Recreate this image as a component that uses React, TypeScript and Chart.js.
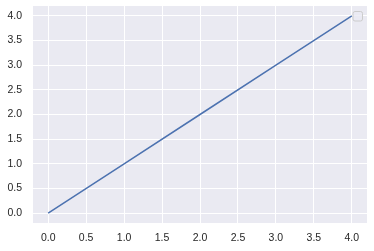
import React, { useEffect, useRef } from "react";
import { Chart, registerables } from "chart.js";

Chart.register(...registerables);

const xValues = [0, 1, 2, 3, 4];
const yValues = [0, 1, 2, 3, 4];
const xTicks = [0, 0.5, 1, 1.5, 2, 2.5, 3, 3.5, 4];
const yTicks = [0, 0.5, 1, 1.5, 2, 2.5, 3, 3.5, 4];

const bgPlugin = {
  id: "bgPlugin",
  beforeDraw(chart: any) {
    const { ctx, chartArea } = chart;
    ctx.save();
    ctx.fillStyle = "#EAEAF2";
    ctx.fillRect(chartArea.left, chartArea.top, chartArea.right - chartArea.left, chartArea.bottom - chartArea.top);
    ctx.restore();
  },
  afterDraw(chart: any) {
    const { ctx, chartArea } = chart;
    const w = 9.5, h = 9.5;
    const x = chartArea.right - 5 - w;
    const y = chartArea.top + 5;
    ctx.save();
    ctx.fillStyle = "rgba(234,234,242,0.8)";
    ctx.strokeStyle = "#CCCCCC";
    ctx.lineWidth = 1;
    ctx.beginPath();
    (ctx as any).roundRect(x + 0.5, y + 0.5, w, h, 2);
    ctx.fill();
    ctx.stroke();
    ctx.restore();
  },
};

export default function App() {
  const ref = useRef<HTMLCanvasElement>(null);
  useEffect(() => {
    if (!ref.current) return;
    const chart = new Chart(ref.current, {
      type: "line",
      data: {
        datasets: [
          {
            data: xValues.map((x, i) => ({ x, y: yValues[i] })),
            borderColor: "#4C72B0",
            borderWidth: 1.5,
            pointRadius: 0,
            fill: false,
            tension: 0,
          },
        ],
      },
      options: {
        responsive: false,
        animation: false,
        layout: { padding: { left: 0, right: 7, top: 6, bottom: 0 } },
        plugins: { legend: { display: false }, tooltip: { enabled: false } },
        scales: {
          x: {
            type: "linear",
            min: -0.2,
            max: 4.2,
            afterBuildTicks: (s: any) => {
              s.ticks = xTicks.map((v) => ({ value: v }));
            },
            afterFit: (s: any) => {
              s.height = 28;
              s.paddingLeft = 0;
              s.paddingRight = 0;
            },
            grid: { color: "#FFFFFF", lineWidth: 1, drawTicks: false },
            border: { display: false },
            ticks: {
              padding: 9,
              color: "#262626",
              font: { family: "'Liberation Sans', Arial, sans-serif", size: 10.5 },
              callback: (v: any) => Number(v).toFixed(1),
              maxRotation: 0,
              autoSkip: false,
            },
          },
          y: {
            type: "linear",
            min: -0.2,
            max: 4.2,
            afterBuildTicks: (s: any) => {
              s.ticks = yTicks.map((v) => ({ value: v }));
            },
            afterFit: (s: any) => {
              s.width = 33;
              s.paddingTop = 0;
              s.paddingBottom = 0;
            },
            grid: { color: "#FFFFFF", lineWidth: 1, drawTicks: false },
            border: { display: false },
            ticks: {
              padding: 11,
              color: "#262626",
              font: { family: "'Liberation Sans', Arial, sans-serif", size: 10.5 },
              callback: (v: any) => Number(v).toFixed(1),
              autoSkip: false,
            },
          },
        },
      },
      plugins: [bgPlugin],
    });
    return () => chart.destroy();
  }, []);
  return (
    <div style={{ position: "absolute", left: 0, top: 0, width: 374, height: 251, background: "#FFFFFF" }}>
      <canvas ref={ref} width={374} height={251} style={{ width: 374, height: 251 }} />
    </div>
  );
}
